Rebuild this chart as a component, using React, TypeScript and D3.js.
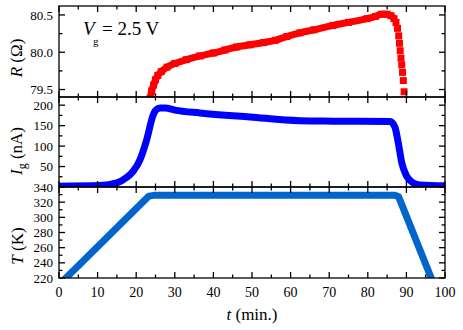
import React from 'react';
import * as d3 from 'd3';

// ---- data ----
const rTime = [23.6, 24.0, 24.5, 25.0, 25.6, 26.5, 28, 30, 33, 36.5, 40, 43, 46, 49.5, 53, 56, 59, 62.4, 66, 71, 75, 79.8, 82, 83.5, 85, 86, 86.8, 87.3, 87.7, 88.0, 88.2, 88.4, 88.6, 88.8, 89.0, 89.2, 89.4];
const rOhm = [79.38, 79.48, 79.56, 79.63, 79.69, 79.74, 79.8, 79.85, 79.9, 79.95, 79.99, 80.03, 80.07, 80.1, 80.13, 80.16, 80.21, 80.26, 80.3, 80.36, 80.4, 80.45, 80.48, 80.51, 80.51, 80.49, 80.45, 80.4, 80.32, 80.22, 80.12, 80.02, 79.92, 79.83, 79.73, 79.62, 79.47];

const igTime = [0, 10.6, 15, 17.5, 19.2, 21, 22.7, 24.4, 25.1, 26.2, 27.5, 30, 36.5, 49.5, 62.4, 71, 85.8, 87, 87.9, 88.8, 90.1, 91.8, 93.5, 100];
const igNA = [2, 3.5, 10, 23, 38, 67, 115, 176, 188, 193, 193, 188, 181, 171, 162, 161, 160, 147, 108, 59, 26, 10, 5, 3];

const tempTime = [0, 23.3, 24.5, 87, 88, 98];
const tempK = [211, 328, 329, 329, 327, 200];

const xTickVals = [0, 10, 20, 30, 40, 50, 60, 70, 80, 90, 100];
const rTickVals = [79.5, 80.0, 80.5];
const rTickLabels = ['79.5', '80.0', '80.5'];
const igTickVals = [50, 100, 150, 200];
const tempTickVals = [220, 240, 260, 280, 300, 320, 340];

// ---- layout ----
const W = 463, H = 330;
const L = 59, R = 445;
const FONT = "'Liberation Serif', 'Times New Roman', serif";

const x = d3.scaleLinear().domain([0, 100]).range([L, R]);
const yR = d3.scaleLinear().domain([79.4, 80.62]).range([97, 6]);
const yI = d3.scaleLinear().domain([0, 220]).range([187, 97]);
const yT = d3.scaleLinear().domain([220, 340]).range([278, 187]);

function Frame({ y, minor, major }: any) {
  const [y0, y1] = y.range();
  const top = Math.min(y0, y1), bot = Math.max(y0, y1);
  const ticks: any[] = [];
  for (let t = 0; t <= 100; t += 5) {
    const len = t % 10 === 0 ? 6 : 3.5;
    const xx = x(t);
    ticks.push(<line key={'xb' + t} x1={xx} x2={xx} y1={bot} y2={bot - len} />);
    ticks.push(<line key={'xt' + t} x1={xx} x2={xx} y1={top} y2={top + len} />);
  }
  const [d0, d1] = y.domain();
  const start = Math.ceil(d0 / minor - 1e-6) * minor;
  for (let v = start; v <= d1 + 1e-9; v += minor) {
    const isMajor = Math.abs(v / major - Math.round(v / major)) < 1e-6;
    const len = isMajor ? 6 : 3.5;
    const yy = y(v);
    ticks.push(<line key={'yl' + v} x1={L} x2={L + len} y1={yy} y2={yy} />);
    ticks.push(<line key={'yr' + v} x1={R} x2={R - len} y1={yy} y2={yy} />);
  }
  return (
    <g stroke="#000" strokeWidth={1.3} fill="none">
      {ticks}
      <rect x={L} y={top} width={R - L} height={bot - top} />
    </g>
  );
}

export default function App() {
  const rData = rTime.map((t, i) => ({ t, v: rOhm[i] }));
  const igData = igTime.map((t, i) => ({ t, v: igNA[i] }));
  const tData = tempTime.map((t, i) => ({ t, v: tempK[i] }));

  const rLine = d3.line<any>().defined((d) => d.t <= 86.8).x((d) => x(d.t)).y((d) => yR(d.v)).curve(d3.curveMonotoneX);
  const igLine = d3.line<any>().x((d) => x(d.t)).y((d) => yI(d.v)).curve(d3.curveMonotoneX);
  const tLine = d3.line<any>().x((d) => x(d.t)).y((d) => yT(d.v));

  return (
    <svg width={W} height={H} style={{ display: 'block', position: 'absolute', left: 0, top: 0, background: '#fff' }}>
      <defs>
        <clipPath id="cR"><rect x={L} y={6} width={R - L} height={91} /></clipPath>
        <clipPath id="cI"><rect x={L} y={97} width={R - L} height={90} /></clipPath>
        <clipPath id="cT"><rect x={L} y={187} width={R - L} height={91} /></clipPath>
      </defs>
      <rect x={0} y={0} width={W} height={H} fill="#fff" />

      {/* data */}
      <g clipPath="url(#cR)">
        <path d={rLine(rData) || ''} fill="none" stroke="#ff0000" strokeWidth={7} />
        {rData.map((d, i) => (
          <rect key={i} x={x(d.t) - 3.5} y={yR(d.v) - 3.5} width={7} height={7} fill="#ff0000" />
        ))}
      </g>
      <g clipPath="url(#cI)">
        <path d={igLine(igData) || ''} fill="none" stroke="#0000ff" strokeWidth={7} strokeLinejoin="round" strokeLinecap="round" />
      </g>
      <g clipPath="url(#cT)">
        <path d={tLine(tData) || ''} fill="none" stroke="#0066cc" strokeWidth={7} strokeLinejoin="round" />
      </g>

      <Frame y={yR} minor={0.25} major={0.5} />
      <Frame y={yI} minor={25} major={50} />
      <Frame y={yT} minor={10} major={20} />

      {/* tick labels */}
      <g fontFamily={FONT} fontSize={13} textAnchor="end" fill="#000">
        {rTickVals.map((v, i) => (
          <text key={'r' + v} x={53} y={yR(v)} dy="0.35em">{rTickLabels[i]}</text>
        ))}
        {igTickVals.map((v) => (
          <text key={'i' + v} x={53} y={yI(v)} dy="0.35em">{v}</text>
        ))}
        {tempTickVals.map((v) => (
          <text key={'t' + v} x={53} y={yT(v)} dy="0.35em">{v}</text>
        ))}
      </g>
      <g fontFamily={FONT} fontSize={14} textAnchor="middle" fill="#000">
        {xTickVals.map((v) => (
          <text key={'x' + v} x={x(v)} y={297}>{v}</text>
        ))}
      </g>

      {/* axis labels */}
      <g fontFamily={FONT} fontSize={17} fill="#000">
        <text x={x(50)} y={320} textAnchor="middle">
          <tspan fontStyle="italic">t</tspan> (min.)
        </text>
        <text transform={`translate(22,58) rotate(-90)`} textAnchor="middle">
          <tspan fontStyle="italic">R</tspan> (Ω)
        </text>
        <text transform={`translate(22,151) rotate(-90)`} textAnchor="middle">
          <tspan fontStyle="italic">I</tspan>
          <tspan fontSize={12} dy={4}>g</tspan>
          <tspan dy={-4}> (nA)</tspan>
        </text>
        <text transform={`translate(23,246) rotate(-90)`} textAnchor="middle">
          <tspan fontStyle="italic">T</tspan> (K)
        </text>
      </g>

      {/* annotation */}
      <g fontFamily={FONT} fill="#000">
        <text x={83} y={35} fontSize={19} fontStyle="italic">V</text>
        <text x={93} y={45} fontSize={11}>g</text>
        <text x={102} y={35} fontSize={19}>= 2.5 V</text>
      </g>
    </svg>
  );
}
